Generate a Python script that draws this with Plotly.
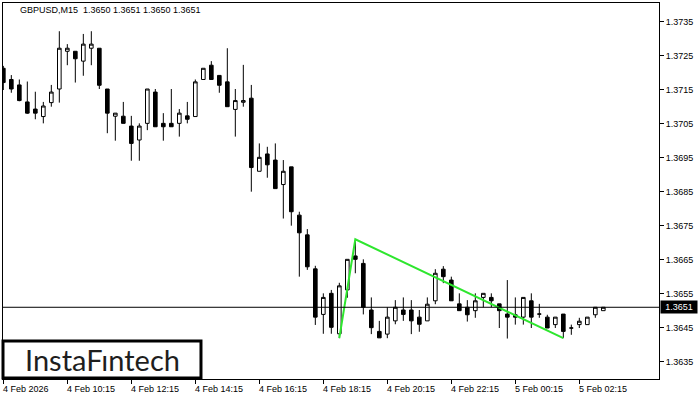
import pandas as pd
import plotly.graph_objects as go

# ---- data ----
symbol_title = "GBPUSD,M15\u00a0\u00a01.3650 1.3651 1.3650 1.3651"
times = pd.date_range("2026-02-04 08:15", periods=76, freq="15min")

opens = [1.37213, 1.37180, 1.37164, 1.37114, 1.37093, 1.37071, 1.37112, 1.37152, 1.37263, 1.37263,
         1.37234, 1.37272, 1.37272, 1.37152, 1.37072, 1.37072, 1.37043, 1.37002, 1.37051, 1.37143,
         1.37051, 1.37051, 1.37051, 1.37073, 1.37071, 1.37180, 1.37222, 1.37192, 1.37173, 1.37092,
         1.37113, 1.37125, 1.36910, 1.36961, 1.36943, 1.36871, 1.36923, 1.36781, 1.36723, 1.36623,
         1.36489, 1.36551, 1.36432, 1.36561, 1.36661, 1.36639, 1.36502, 1.36439, 1.36431, 1.36470,
         1.36502, 1.36502, 1.36481, 1.36470, 1.36529, 1.36622, 1.36590, 1.36520, 1.36510, 1.36500,
         1.36539, 1.36539, 1.36520, 1.36490, 1.36488, 1.36481, 1.36529, 1.36490, 1.36481, 1.36459,
         1.36490, 1.36449, 1.36459, 1.36459, 1.36488, 1.36500]
highs = [1.37220, 1.37193, 1.37180, 1.37174, 1.37144, 1.37114, 1.37164, 1.37322, 1.37284, 1.37263,
         1.37314, 1.37322, 1.37272, 1.37152, 1.37081, 1.37114, 1.37073, 1.37051, 1.37152, 1.37152,
         1.37081, 1.37152, 1.37093, 1.37114, 1.37180, 1.37213, 1.37234, 1.37192, 1.37272, 1.37152,
         1.37223, 1.37164, 1.36992, 1.36982, 1.36992, 1.36943, 1.36923, 1.36791, 1.36740, 1.36632,
         1.36551, 1.36561, 1.36582, 1.36651, 1.36708, 1.36651, 1.36539, 1.36470, 1.36510, 1.36531,
         1.36539, 1.36531, 1.36502, 1.36539, 1.36622, 1.36631, 1.36600, 1.36551, 1.36531, 1.36551,
         1.36551, 1.36551, 1.36520, 1.36590, 1.36539, 1.36539, 1.36551, 1.36520, 1.36488, 1.36481,
         1.36490, 1.36459, 1.36479, 1.36481, 1.36510, 1.36510]
lows = [1.37149, 1.37141, 1.37116, 1.37079, 1.37063, 1.37051, 1.37100, 1.37112, 1.37222, 1.37171,
        1.37191, 1.37222, 1.37152, 1.37022, 1.37000, 1.37051, 1.36941, 1.36941, 1.37031, 1.37041,
        1.37000, 1.37041, 1.37012, 1.37051, 1.37071, 1.37180, 1.37180, 1.37141, 1.37100, 1.37012,
        1.37100, 1.36850, 1.36910, 1.36891, 1.36859, 1.36771, 1.36750, 1.36600, 1.36620, 1.36458,
        1.36432, 1.36432, 1.36419, 1.36538, 1.36610, 1.36489, 1.36431, 1.36420, 1.36419, 1.36460,
        1.36470, 1.36431, 1.36438, 1.36470, 1.36519, 1.36581, 1.36529, 1.36500, 1.36468, 1.36479,
        1.36510, 1.36510, 1.36449, 1.36418, 1.36459, 1.36459, 1.36449, 1.36479, 1.36449, 1.36449,
        1.36419, 1.36429, 1.36449, 1.36459, 1.36479, 1.36500]
closes = [1.37171, 1.37152, 1.37118, 1.37081, 1.37081, 1.37102, 1.37143, 1.37272, 1.37272, 1.37241,
          1.37284, 1.37284, 1.37163, 1.37081, 1.37081, 1.37051, 1.36992, 1.37043, 1.37152, 1.37041,
          1.37041, 1.37041, 1.37081, 1.37063, 1.37173, 1.37213, 1.37180, 1.37163, 1.37100, 1.37118,
          1.37118, 1.36921, 1.36951, 1.36929, 1.36859, 1.36910, 1.36791, 1.36729, 1.36629, 1.36481,
          1.36539, 1.36451, 1.36573, 1.36651, 1.36651, 1.36510, 1.36450, 1.36420, 1.36481, 1.36510,
          1.36489, 1.36470, 1.36460, 1.36519, 1.36610, 1.36600, 1.36529, 1.36500, 1.36488, 1.36529,
          1.36551, 1.36529, 1.36500, 1.36481, 1.36481, 1.36539, 1.36481, 1.36490, 1.36449, 1.36481,
          1.36439, 1.36449, 1.36469, 1.36481, 1.36510, 1.36510]

# pattern (bar index, prices)
pattern_idx = [42, 44, 70]
pattern_prices = [1.36419, 1.36710, 1.36419]

current_price = 1.3651
y_ticks = [1.3635, 1.3645, 1.3655, 1.3665, 1.3675, 1.3685, 1.3695, 1.3705, 1.3715, 1.3725, 1.3735]
x_tick_idx = [0, 8, 16, 24, 32, 40, 48, 56, 64, 72]
x_tick_labels = ["4 Feb 2026", "4 Feb 10:15", "4 Feb 12:15", "4 Feb 14:15", "4 Feb 16:15",
                 "4 Feb 18:15", "4 Feb 20:15", "4 Feb 22:15", "5 Feb 00:15", "5 Feb 02:15"]
logo_text = "InstaFıntech"

# ---- figure ----
FONT = "Liberation Sans, Arial, sans-serif"
bar = pd.Timedelta(minutes=15)

fig = go.Figure()
fig.add_trace(go.Candlestick(
    x=times, open=opens, high=highs, low=lows, close=closes,
    increasing=dict(line=dict(color="black", width=1), fillcolor="white"),
    decreasing=dict(line=dict(color="black", width=1), fillcolor="black"),
    whiskerwidth=0, showlegend=False, hoverinfo="skip",
))
fig.add_trace(go.Scatter(
    x=[times[i] for i in pattern_idx], y=pattern_prices, mode="lines",
    line=dict(color="#2ee62e", width=2), showlegend=False, hoverinfo="skip",
))

tick_times = [times[i] for i in x_tick_idx]
fig.update_xaxes(
    range=[times[0] - 0.04 * bar, times[0] + 81.96 * bar],
    rangeslider=dict(visible=False),
    showgrid=False, zeroline=False,
    showline=True, mirror=True, linecolor="black", linewidth=1,
    ticks="outside", ticklen=4, tickcolor="black", tickwidth=1,
    tickvals=tick_times, showticklabels=False,
)
fig.update_yaxes(
    range=[1.36299, 1.37405], side="right",
    showgrid=False, zeroline=False,
    showline=True, mirror=True, linecolor="black", linewidth=1,
    ticks="outside", ticklen=4, tickcolor="black", tickwidth=1,
    tickvals=y_ticks, ticktext=[f"{v:.4f}" for v in y_ticks],
    tickfont=dict(family=FONT, size=9, color="black"),
)

annotations = []
for t, lab in zip(tick_times, x_tick_labels):
    annotations.append(dict(
        x=t, y=0, xref="x", yref="paper", text=lab, showarrow=False,
        xanchor="left", yanchor="top", xshift=-2, yshift=-3,
        font=dict(family=FONT, size=9, color="black"),
    ))
annotations.append(dict(
    x=0.0229, y=0.981, xref="paper", yref="paper", text=symbol_title, showarrow=False,
    xanchor="left", yanchor="middle", font=dict(family=FONT, size=9, color="black"),
))
annotations.append(dict(
    x=1, y=current_price, xref="paper", yref="y", text=f"{current_price:.4f}", showarrow=False,
    xanchor="left", yanchor="middle", xshift=1, bgcolor="black", borderpad=1, width=34,
    font=dict(family=FONT, size=9, color="white"),
))
annotations.append(dict(
    x=0.151, y=0.052, xref="paper", yref="paper", text=logo_text, showarrow=False,
    xanchor="center", yanchor="middle",
    font=dict(family="Lato, Inter, sans-serif", size=29, color="#1e1e1e"),
))

shapes = [
    dict(type="line", xref="paper", yref="y", x0=0, x1=1, y0=current_price, y1=current_price,
         line=dict(color="black", width=1)),
    dict(type="rect", xref="paper", yref="paper", x0=0.0, x1=0.3018, y0=0.0027, y1=0.101,
         line=dict(color="black", width=3), fillcolor="white"),
]

fig.update_layout(
    width=700, height=400,
    margin=dict(l=3, r=41, t=3, b=21),
    paper_bgcolor="white", plot_bgcolor="white",
    boxgap=0.35,
    annotations=annotations, shapes=shapes,
    showlegend=False,
)

fig.write_html("out.html", config={"displayModeBar": False},
               post_script="document.body.style.margin='0';")
